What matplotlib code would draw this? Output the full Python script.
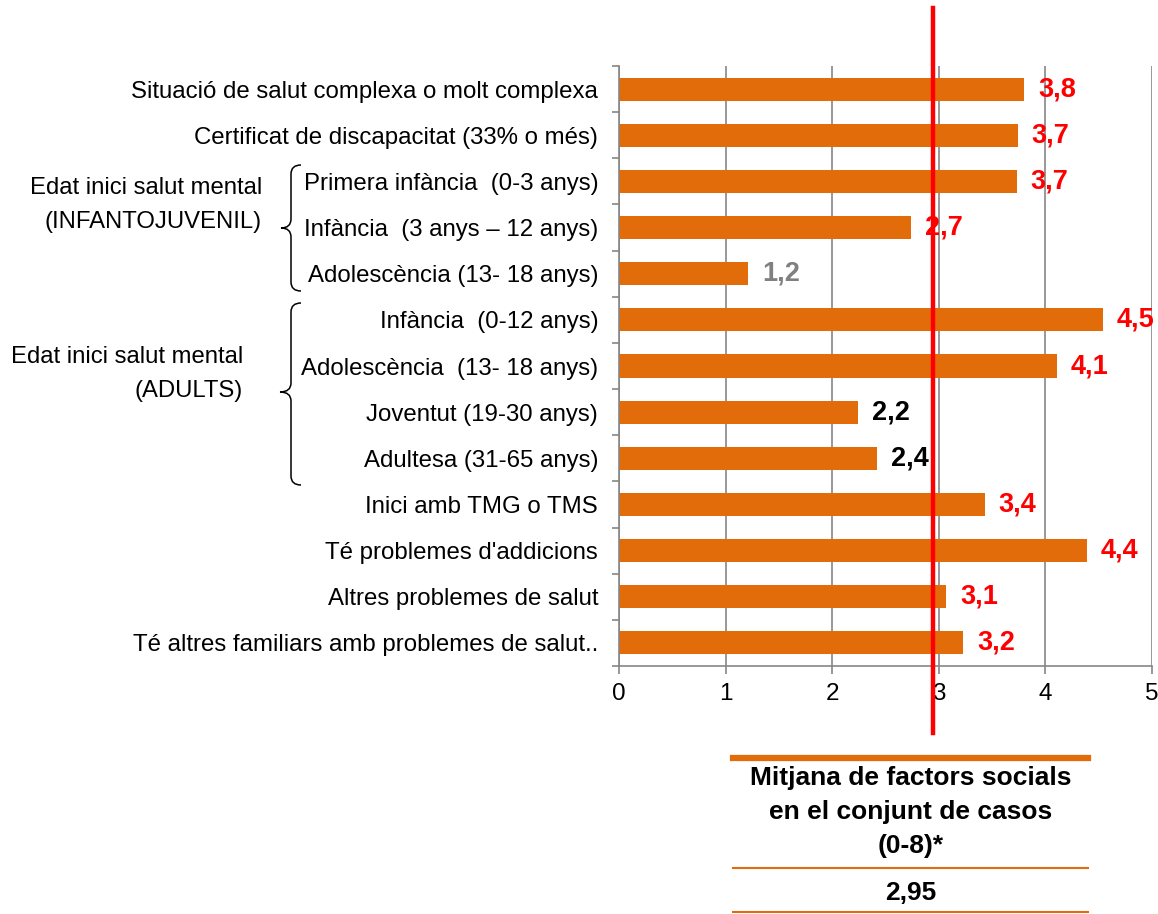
import numpy as np
import matplotlib.pyplot as plt
from matplotlib.path import Path
from matplotlib.patches import PathPatch
from matplotlib.lines import Line2D
import matplotlib.transforms as mtransforms

plt.rcParams['font.family'] = ['Liberation Sans', 'DejaVu Sans']

# bar categories, top to bottom
categories = [
    "Situació de salut complexa o molt complexa",
    "Certificat de discapacitat (33% o més)",
    "Primera infància  (0-3 anys)",
    "Infància  (3 anys \u2013 12 anys)",
    "Adolescència (13- 18 anys)",
    "Infància  (0-12 anys)",
    "Adolescència  (13- 18 anys)",
    "Joventut (19-30 anys)",
    "Adultesa (31-65 anys)",
    "Inici amb TMG o TMS",
    "Té problemes d'addicions",
    "Altres problemes de salut",
    "Té altres familiars amb problemes de salut..",
]
values = [3.80, 3.74, 3.73, 2.74, 1.21, 4.54, 4.11, 2.24, 2.42, 3.43, 4.39, 3.07, 3.23]
label_colors = ["#FF0000", "#FF0000", "#FF0000", "#FF0000", "#808080", "#FF0000", "#FF0000",
                "#000000", "#000000", "#FF0000", "#FF0000", "#FF0000", "#FF0000"]

# grouped rows (first index, last index, group label)
groups = [
    (2, 4, "Edat inici salut mental\n(INFANTOJUVENIL)"),
    (5, 8, "Edat inici salut mental\n(ADULTS)"),
]

mean_value = 2.95
table_header = "Mitjana de factors socials\nen el conjunt de casos\n(0-8)*"

ORANGE = "#E36C0A"
GRID = "#868686"

W, H = 1158, 914
fig = plt.figure(figsize=(W / 100, H / 100), dpi=100)
fig.patch.set_facecolor("white")


def fx(px):
    return px / W


def fy(py):
    return 1 - py / H


ax = fig.add_axes([fx(619), fy(666), fx(1152) - fx(619), fy(66) - fy(666)])

n = len(categories)
ypos = np.arange(n)
ax.barh(ypos, values, height=0.5, color=ORANGE, zorder=2)
ax.set_ylim(n - 0.5, -0.5)
ax.set_xlim(0, 5)

# value labels
for y, v, c in zip(ypos, values, label_colors):
    ax.annotate(("%.1f" % v).replace(".", ","), (v, y), xytext=(10, 0),
                textcoords="offset points", ha="left", va="center",
                fontsize=19.5, fontweight="bold", color=c, annotation_clip=False)

# axes styling
ax.set_xticks(range(6))
ax.xaxis.grid(True, color=GRID, lw=1.2, zorder=0)
ax.tick_params(axis="x", length=6, width=1.2, color=GRID, labelsize=17.5, pad=6)
ax.set_yticks(ypos)
ax.set_yticklabels(categories, fontsize=17.3)
ax.tick_params(axis="y", length=0, pad=15)
ax.set_yticks(np.arange(n + 1) - 0.5, minor=True)
ax.tick_params(axis="y", which="minor", length=5, width=1.2, color=GRID, direction="out")
for s in ["top", "right"]:
    ax.spines[s].set_visible(False)
for s in ["left", "bottom"]:
    ax.spines[s].set_color(GRID)
    ax.spines[s].set_linewidth(1.2)
ax.set_axisbelow(True)

# red line for the overall mean
trans = mtransforms.blended_transform_factory(ax.transData, ax.transAxes)
ax.plot([mean_value, mean_value], [(666 - 8) / 600, (666 - 733) / 600], color="#FF0000",
        lw=3.2, transform=trans, clip_on=False, zorder=5)


def brace(x_tip, x_spine, x_point, y_top, y_bot, y_mid, r=9):
    verts = [
        (x_tip, y_top), (x_spine, y_top), (x_spine, y_top + r),
        (x_spine, y_mid - r),
        (x_spine, y_mid), (x_point, y_mid),
        (x_spine, y_mid), (x_spine, y_mid + r),
        (x_spine, y_bot - r),
        (x_spine, y_bot), (x_tip, y_bot),
    ]
    codes = [Path.MOVETO, Path.CURVE3, Path.CURVE3, Path.LINETO,
             Path.CURVE3, Path.CURVE3, Path.CURVE3, Path.CURVE3,
             Path.LINETO, Path.CURVE3, Path.CURVE3]
    verts = [(fx(a), fy(b)) for a, b in verts]
    fig.patches.append(PathPatch(Path(verts, codes), fill=False, lw=1.1, ec="black",
                                 transform=fig.transFigure))


brace(301, 291, 281, 165, 291, 228)
brace(301, 291, 280, 303, 485, 392)

fig.text(fx(262), fy(205), groups[0][2], ha="right", va="center", fontsize=17.2, linespacing=1.68)
fig.text(fx(243), fy(374), groups[1][2], ha="right", va="center", fontsize=17.2, linespacing=1.68)

# summary table under the chart
fig.add_artist(Line2D([fx(733), fx(1088)], [fy(758), fy(758)], color=ORANGE, lw=4.5))
fig.add_artist(Line2D([fx(733), fx(1088)], [fy(868), fy(868)], color=ORANGE, lw=1.5))
fig.add_artist(Line2D([fx(733), fx(1088)], [fy(912), fy(912)], color=ORANGE, lw=1.5))
fig.text(fx(911), fy(812), table_header, ha="center", va="center", fontsize=19,
         fontweight="bold", linespacing=1.55)
fig.text(fx(911), fy(893), ("%.2f" % mean_value).replace(".", ","), ha="center", va="center",
         fontsize=19, fontweight="bold")

fig.savefig("out.png", dpi=100)
